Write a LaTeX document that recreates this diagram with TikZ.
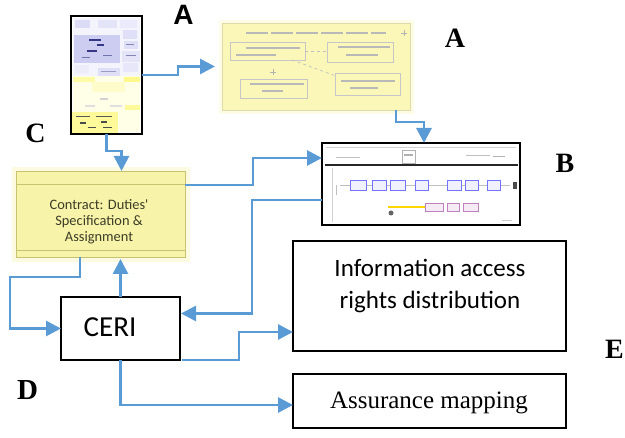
\documentclass[tikz,border=0pt]{standalone}
\usepackage{fontspec}
\setmainfont{Liberation Serif}
\newfontfamily\carl{Carlito}
\newfontfamily\arialf{Liberation Sans}
\usetikzlibrary{arrows.meta,calc}
\definecolor{arrblue}{RGB}{91,155,213}
\definecolor{ctyel}{RGB}{247,243,168}
\definecolor{ctedge}{RGB}{200,195,115}
\definecolor{thyel}{RGB}{250,247,185}
\definecolor{lav}{RGB}{196,196,240}
\definecolor{dblue}{RGB}{55,55,135}
\definecolor{ctxt}{RGB}{60,60,40}
\begin{document}
\begin{tikzpicture}[x=1pt,y=-1pt,
  arr/.style={draw=arrblue, line width=2.8pt, -{Triangle[length=15pt,width=15pt]}},
  plainbox/.style={draw=black, line width=1.1pt, fill=white, inner sep=0pt, outer sep=0pt},
  yelbox/.style={draw=ctedge, line width=0.8pt, fill=ctyel, inner sep=0pt, outer sep=0pt},
  thumbbox/.style={draw=black, line width=1.4pt, fill=white, inner sep=0pt, outer sep=0pt},
  serlab/.style={font=\bfseries\fontsize{28}{30}\selectfont, inner sep=0pt, anchor=base},
  fake/.style={line width=2.2pt, gray!55},
  fakeb/.style={draw=gray!45, line width=0.5pt, fill=thyel},
  bbox/.style={draw=blue!55, line width=0.6pt, fill=blue!6}
]
\useasboundingbox (0,0) rectangle (625,438);

% ---------- halos ----------
\fill[ctyel!35] (12,167) rectangle (190,262);
\fill[thyel!35] (219,20) rectangle (414,114);

% ---------- main nodes ----------
\node[thumbbox, minimum width=71pt, minimum height=118pt] (thA) at (106.5,75) {};
\node[draw=ctedge!60, line width=0.8pt, fill=thyel, inner sep=0pt, outer sep=0pt,
      minimum width=188pt, minimum height=87pt] (yA) at (316,66.5) {};
\node[thumbbox, minimum width=198pt, minimum height=82pt] (B) at (421,184) {};
\node[yelbox, minimum width=169pt, minimum height=86pt] (ct) at (100.5,214) {};
\node[plainbox, minimum width=119pt, minimum height=63pt] (ceri) at (120.5,328.5) {};
\node[plainbox, minimum width=273pt, minimum height=110pt] (info) at (429.5,296) {};
\node[plainbox, minimum width=273pt, minimum height=54pt] (as) at (429.5,401) {};

% ---------- thumbnail A (left) ----------
\fill[lav!18] (73,18) rectangle (140,76);
\fill[yellow!10] (73,76) rectangle (140,132);
\fill[lav!60] (75,20) rectangle (90,28);
\fill[lav!45] (98,20) rectangle (117,28);
\fill[lav!35] (120,20) rectangle (137,28);
\fill[lav!85] (74,35) rectangle (120,63);
\fill[dblue] (89,39) rectangle (101,41.5);
\fill[dblue] (97,44) rectangle (104,46);
\fill[dblue] (87,50) rectangle (97,52.5);
\fill[dblue!70] (82,57) rectangle (90,58.5);
\fill[dblue!70] (103,55) rectangle (112,56.5);
\fill[lav!55] (123,30) rectangle (137,39);
\fill[lav!55] (124,41) rectangle (138,49);
\fill[lav!45] (122,51) rectangle (140,62);
\fill[dblue!60] (126,44) rectangle (134,45.5);
\fill[dblue!60] (126,55) rectangle (136,56.5);
\fill[lav!30] (75,65) rectangle (89,73);
\fill[lav!55] (98,68) rectangle (120,76);
\fill[lav!40] (123,63) rectangle (138,72);
\fill[dblue!50] (101,71) rectangle (116,72.5);
\fill[yellow!35] (73,77) rectangle (95,82);
\fill[yellow!45] (124,77) rectangle (140,82);
\fill[yellow!20] (92,82) rectangle (125,92);
\fill[gray!35] (100,98) rectangle (108,100);
\fill[gray!25] (85,105) rectangle (95,107);
\fill[gray!25] (110,105) rectangle (122,107);
\fill[yellow!40] (125,105) rectangle (140,110);
\fill[yellow!40] (72,112) rectangle (118,133);
\fill[gray!70!black] (76,116) rectangle (90,117.5);
\fill[gray!70!black] (96,116) rectangle (112,117.5);
\fill[gray!60!black] (80,122) rectangle (86,124);
\fill[gray!60!black] (101,121) rectangle (107,123);
\fill[gray!60!black] (88,127) rectangle (96,128.5);
\fill[gray!60!black] (103,127) rectangle (112,128.5);

% ---------- thumbnail A (yellow) ----------
\draw[fake, dash pattern=on 22pt off 3pt] (246,33) -- (386,33);
\draw[gray!60, line width=0.8pt] (401,33) -- (407,33) (404,30) -- (404,36);
\draw[fakeb] (230,42) rectangle (305,60);
\draw[fakeb] (327,42) rectangle (393,62);
\draw[fakeb] (240,79) rectangle (307,98);
\draw[fakeb] (335,73) rectangle (400,95);
\draw[fake, line width=1.8pt] (246,48) -- (300,48) (236,55) -- (276,55);
\draw[fake, line width=1.8pt] (338,47) -- (390,47) (346,55) -- (378,55);
\draw[fake, line width=1.8pt] (250,84) -- (304,84) (262,91) -- (283,91);
\draw[fake, line width=1.8pt] (341,81) -- (395,81) (350,88) -- (378,88);
\draw[gray!50, line width=0.7pt, dashed] (305,51) -- (327,51);
\draw[gray!50, line width=0.7pt, dashed] (292,60) -- (336,76);
\draw[gray!60, line width=0.7pt] (270,72) -- (276,72) (273,69) -- (273,75);

% ---------- thumbnail B ----------
\draw[gray!35, line width=0.8pt] (326,147) -- (516,147);
\draw[black!85, line width=1.6pt] (325,165) -- (518,165);
\draw[gray!60, line width=0.6pt] (402,150) rectangle (415,163);
\fill[gray!60] (404,154) rectangle (413,156);
\fill[gray!50] (336,157) rectangle (360,158.5);
\fill[gray!50] (466,155) rectangle (490,156.5);
\fill[gray!60] (493,156) rectangle (505,157.5);
\draw[gray!35, line width=0.6pt] (332,168) -- (332,222);
\draw[gray!50, line width=1pt] (336,185) -- (336,195);
\draw[gray!50, line width=0.6pt] (340,185) -- (510,185);
\foreach \a/\b in {350/366,372/386,390/405,415/428,447/461,465/478,487/500}
  \draw[bbox] (\a,180) rectangle (\b,190);
\fill[black!70] (513,182) rectangle (517,189);
\draw[yellow!75!orange, line width=2pt] (388,207) -- (425,207);
\foreach \a/\b in {425/443,447/459,463/478}
  \draw[draw=violet!50, line width=0.6pt, fill=violet!8] (\a,203) rectangle (\b,211);
\fill[gray!80!black] (391,213) circle (2.5pt);
\fill[gray!40] (502,220) rectangle (512,221.5);

% ---------- contract box details ----------
\draw[ctedge, line width=0.7pt] (ct.north west |- 0,184) -- (ct.north east |- 0,184);
\draw[ctedge, line width=0.7pt] (ct.south west |- 0,250) -- (ct.south east |- 0,250);

% ---------- texts ----------
\node[font=\carl\fontsize{14.4}{16}\selectfont, text=ctxt, anchor=base, inner sep=0pt] (ct1) at (99,210) {Contract: Duties'};
\node[font=\carl\fontsize{14.4}{16}\selectfont, text=ctxt, anchor=base, inner sep=0pt] (ct2) at (99,226) {Specification \&};
\node[font=\carl\fontsize{14.4}{16}\selectfont, text=ctxt, anchor=base, inner sep=0pt] (ct3) at (99,242) {Assignment};
\node[font=\carl\fontsize{29}{34}\selectfont, anchor=base, inner sep=0pt] (ceritxt) at (110,337) {CERI};
\node[font=\carl\fontsize{25}{30}\selectfont, anchor=base, inner sep=0pt] (info1) at (430,277) {Information access};
\node[font=\carl\fontsize{25}{30}\selectfont, anchor=base, inner sep=0pt] (info2) at (430,309) {rights distribution};
\node[font=\fontsize{25}{30}\selectfont, anchor=base, inner sep=0pt] (astxt) at (429,409) {Assurance mapping};

% ---------- labels ----------
\node[font=\arialf\bfseries\fontsize{28}{30}\selectfont, anchor=base, inner sep=0pt] (labA1) at (183.5,25) {A};
\node[serlab] (labA2) at (455,48) {A};
\node[serlab] (labB) at (565,173) {B};
\node[serlab] (labC) at (35.5,143) {C};
\node[serlab, font=\bfseries\fontsize{29}{30}\selectfont] (labD) at (27.5,400) {D};
\node[serlab, anchor=base west] (labE) at (605,359) {E};

% ---------- connectors ----------
\draw[arr] (thA.east) -- ++(36,0) |- ($(yA.west)+(-7,0)$);
\draw[arr] ($(yA.south east)+(-14,0)$) -- ++(0,12) -| ($(B.north)+(3,0)$);
\draw[arr] (thA.south) -- ++(0,17) -| ($(ct.north)+(21,0)$);
\draw[arr] ($(ct.north east)+(0,14)$) -- ++(68,0) |- ($(B.west)+(0,-26)$);
\draw[arr] ($(B.west)+(0,16)$) -- ++(-70,0) |- ($(ceri.east)+(1,-15)$);
\draw[arr] (ceri.north) -- ($(ceri.north |- ct.south)+(0,2)$);
\draw[arr] ($(ct.south west)+(64,0)$) -- ++(0,20) -- ++(-70,0) |- (ceri.west);
\draw[arr] ($(ceri.south east)+(2,0)$) -- ++(57,0) |- ($(info.west)+(0,36)$);
\draw[arr] (ceri.south) |- ($(as.west)+(0,4)$);
\end{tikzpicture}
\end{document}
